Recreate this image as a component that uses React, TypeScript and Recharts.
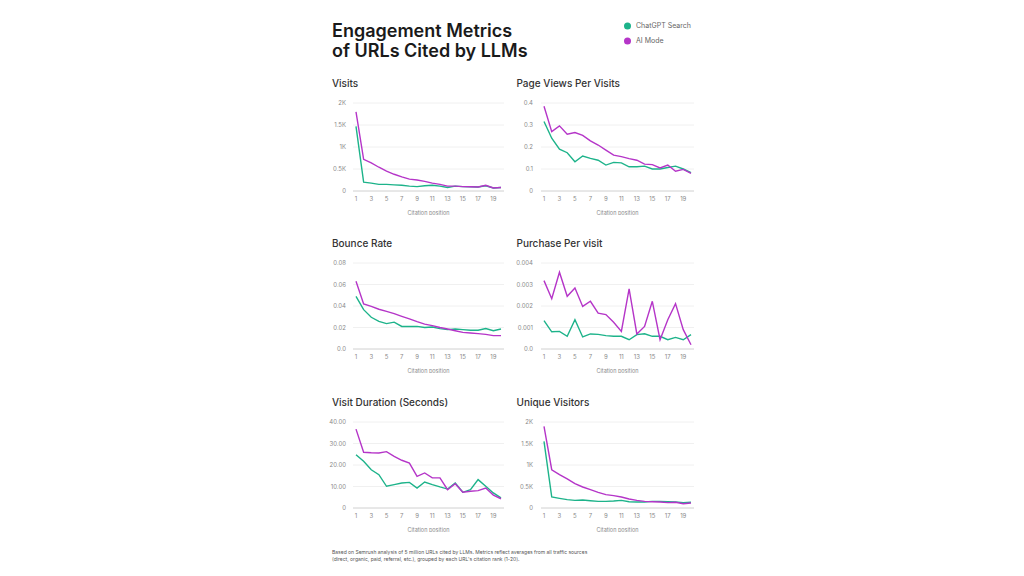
import React from 'react';
import { LineChart, Line, XAxis, YAxis, CartesianGrid, Label } from 'recharts';

const positions = [1, 2, 3, 4, 5, 6, 7, 8, 9, 10, 11, 12, 13, 14, 15, 16, 17, 18, 19, 20];
const xTicks = [1, 3, 5, 7, 9, 11, 13, 15, 17, 19];

const visitsChatGPT = [1470, 200, 180, 150, 150, 140, 130, 110, 100, 120, 130, 110, 80, 110, 100, 95, 90, 120, 70, 80];
const visitsAIMode = [1800, 720, 640, 540, 450, 380, 320, 270, 250, 220, 180, 150, 110, 110, 100, 95, 90, 130, 70, 80];
const visitsTicks = [0, 500, 1000, 1500, 2000];
const visitsTickLabels = ['0', '0.5K', '1K', '1.5K', '2K'];

const pageViewsChatGPT = [0.316, 0.24, 0.19, 0.174, 0.133, 0.159, 0.148, 0.14, 0.118, 0.13, 0.128, 0.11, 0.11, 0.113, 0.1, 0.1, 0.107, 0.113, 0.1, 0.083];
const pageViewsAIMode = [0.385, 0.27, 0.296, 0.258, 0.266, 0.253, 0.228, 0.209, 0.186, 0.163, 0.156, 0.147, 0.14, 0.122, 0.12, 0.105, 0.118, 0.09, 0.098, 0.08];
const pageViewsTicks = [0, 0.1, 0.2, 0.3, 0.4];
const pageViewsTickLabels = ['0', '0.1', '0.2', '0.3', '0.4'];

const bounceChatGPT = [0.049, 0.0366, 0.0295, 0.0257, 0.0236, 0.025, 0.021, 0.021, 0.021, 0.02, 0.0205, 0.019, 0.018, 0.0186, 0.018, 0.0174, 0.0174, 0.019, 0.017, 0.0186];
const bounceAIMode = [0.063, 0.042, 0.0397, 0.037, 0.035, 0.0329, 0.0304, 0.028, 0.0254, 0.0232, 0.0217, 0.02, 0.0186, 0.017, 0.0155, 0.0149, 0.0143, 0.0136, 0.0124, 0.0124];
const bounceTicks = [0, 0.02, 0.04, 0.06, 0.08];
const bounceTickLabels = ['0.0', '0.02', '0.04', '0.06', '0.08'];

const purchaseChatGPT = [0.00132, 0.0008, 0.00082, 0.00059, 0.00136, 0.00056, 0.0007, 0.00068, 0.00062, 0.00059, 0.00059, 0.00043, 0.00067, 0.00071, 0.00059, 0.00059, 0.00043, 0.00054, 0.00043, 0.00067];
const purchaseAIMode = [0.00318, 0.00234, 0.00357, 0.00245, 0.00284, 0.00198, 0.00222, 0.00167, 0.0016, 0.00124, 0.00082, 0.0028, 0.0007, 0.00105, 0.00222, 0.00043, 0.00136, 0.00211, 0.0009, 0.0002];
const purchaseTicks = [0, 0.001, 0.002, 0.003, 0.004];
const purchaseTickLabels = ['0.0', '0.001', '0.002', '0.003', '0.004'];

const durationChatGPT = [24.8, 21.7, 17.8, 15.5, 10.1, 10.9, 11.6, 11.9, 9.3, 12.1, 10.9, 9.8, 8.8, 11.6, 7.3, 8.5, 13.2, 10.1, 7.0, 4.7];
const durationAIMode = [36.7, 25.9, 25.7, 25.6, 26.2, 24.0, 22.2, 20.9, 14.7, 16.3, 14.0, 14.0, 8.5, 11.3, 7.3, 7.8, 8.1, 9.3, 6.0, 4.3];
const durationTicks = [0, 10, 20, 30, 40];
const durationTickLabels = ['0', '10.00', '20.00', '30.00', '40.00'];

const uniqueChatGPT = [1550, 256, 225, 194, 178, 186, 170, 155, 155, 163, 178, 147, 140, 140, 155, 155, 147, 140, 124, 132];
const uniqueAIMode = [1900, 890, 775, 675, 566, 488, 426, 364, 310, 287, 256, 210, 178, 155, 147, 140, 124, 132, 100, 116];
const uniqueTicks = [0, 500, 1000, 1500, 2000];
const uniqueTickLabels = ['0', '0.5K', '1K', '1.5K', '2K'];

const seriesNames = ['ChatGPT Search', 'AI Mode'];
const GREEN = '#1db38a';
const PURPLE = '#b535c8';
const FONT = 'Inter, "Noto Sans", sans-serif';

type PanelProps = {
  left: number;
  top: number;
  width: number;
  height: number;
  gap: number;
  chatgpt: number[];
  aimode: number[];
  ticks: number[];
  labels: string[];
};

function Panel({ left, top, width, height, gap, chatgpt, aimode, ticks, labels }: PanelProps) {
  const data = positions.map((p, i) => ({ pos: p, chatgpt: chatgpt[i], aimode: aimode[i] }));
  const fmt = (v: number) => {
    const idx = ticks.findIndex((t) => Math.abs(t - v) < 1e-9);
    return idx >= 0 ? labels[idx] : String(v);
  };
  return (
    <div style={{ position: 'absolute', left, top }}>
      <LineChart width={width} height={height} data={data} margin={{ top: 5, right: 0, bottom: 0, left: 0 }}>
        <CartesianGrid vertical={false} stroke="#ececec" strokeWidth={0.8} />
        <XAxis
          dataKey="pos"
          type="number"
          domain={[1, 20]}
          ticks={xTicks}
          interval={0}
          padding={{ left: 3, right: 3 }}
          tickLine={false}
          tickSize={0}
          tickMargin={6}
          axisLine={{ stroke: '#cfcfcf', strokeWidth: 0.8 }}
          tick={{ fontSize: 6, fill: '#8a8a8a', fontFamily: FONT }}
          height={24}
        >
          <Label value="Citation position" position="insideBottom" offset={0} style={{ fontSize: 5.5, fill: '#8a8a8a', fontFamily: FONT }} />
        </XAxis>
        <YAxis
          type="number"
          domain={[ticks[0], ticks[ticks.length - 1]]}
          ticks={ticks}
          interval={0}
          tickFormatter={fmt}
          axisLine={false}
          tickLine={false}
          tickSize={0}
          tickMargin={gap}
          width={30}
          tick={{ fontSize: 6, fill: '#8a8a8a', fontFamily: FONT }}
        />
        <Line type="linear" dataKey="chatgpt" name={seriesNames[0]} stroke={GREEN} strokeWidth={1.4} dot={false} isAnimationActive={false} />
        <Line type="linear" dataKey="aimode" name={seriesNames[1]} stroke={PURPLE} strokeWidth={1.4} dot={false} isAnimationActive={false} />
      </LineChart>
    </div>
  );
}

const titleStyle = { fontSize: 10, fill: '#333', fontFamily: FONT, fontWeight: 500 } as const;

export default function App() {
  return (
    <div style={{ position: 'absolute', left: 0, top: 0, width: 1024, height: 576, background: '#fff', overflow: 'hidden' }}>
      <Panel left={323} top={98} width={181} height={117} gap={7} chatgpt={visitsChatGPT} aimode={visitsAIMode} ticks={visitsTicks} labels={visitsTickLabels} />
      <Panel left={511} top={98} width={183} height={117} gap={8} chatgpt={pageViewsChatGPT} aimode={pageViewsAIMode} ticks={pageViewsTicks} labels={pageViewsTickLabels} />
      <Panel left={323} top={258} width={181} height={115} gap={7} chatgpt={bounceChatGPT} aimode={bounceAIMode} ticks={bounceTicks} labels={bounceTickLabels} />
      <Panel left={511} top={258} width={183} height={115} gap={8} chatgpt={purchaseChatGPT} aimode={purchaseAIMode} ticks={purchaseTicks} labels={purchaseTickLabels} />
      <Panel left={323} top={417} width={181} height={115} gap={7} chatgpt={durationChatGPT} aimode={durationAIMode} ticks={durationTicks} labels={durationTickLabels} />
      <Panel left={511} top={417} width={183} height={115} gap={8} chatgpt={uniqueChatGPT} aimode={uniqueAIMode} ticks={uniqueTicks} labels={uniqueTickLabels} />
      <svg width={1024} height={576} style={{ position: 'absolute', left: 0, top: 0, pointerEvents: 'none' }}>
        <text x={332} y={36.5} style={{ fontSize: 18, fontWeight: 600, fill: '#1a1a1a', fontFamily: FONT }}>Engagement Metrics</text>
        <text x={332} y={56.5} style={{ fontSize: 18, fontWeight: 600, fill: '#1a1a1a', fontFamily: FONT }}>of URLs Cited by LLMs</text>
        <circle cx={627.5} cy={26} r={3.5} fill={GREEN} />
        <text x={636} y={28.4} style={{ fontSize: 7, fill: '#666', fontFamily: FONT }}>{seriesNames[0]}</text>
        <circle cx={627.5} cy={41} r={3.5} fill={PURPLE} />
        <text x={636} y={43.4} style={{ fontSize: 7, fill: '#666', fontFamily: FONT }}>{seriesNames[1]}</text>
        <text x={332} y={87} style={titleStyle}>Visits</text>
        <text x={516.5} y={87} style={titleStyle}>Page Views Per Visits</text>
        <text x={332} y={246.5} style={titleStyle}>Bounce Rate</text>
        <text x={516.5} y={246.5} style={titleStyle}>Purchase Per visit</text>
        <text x={332} y={405.5} style={titleStyle}>Visit Duration (Seconds)</text>
        <text x={516.5} y={405.5} style={titleStyle}>Unique Visitors</text>
        <text x={332} y={554} style={{ fontSize: 5, fill: '#555', fontFamily: FONT }}>Based on Semrush analysis of 5 million URLs cited by LLMs. Metrics reflect averages from all traffic sources</text>
        <text x={332} y={560.8} style={{ fontSize: 5, fill: '#555', fontFamily: FONT }}>(direct, organic, paid, referral, etc.), grouped by each URL's citation rank (1-20).</text>
      </svg>
    </div>
  );
}
